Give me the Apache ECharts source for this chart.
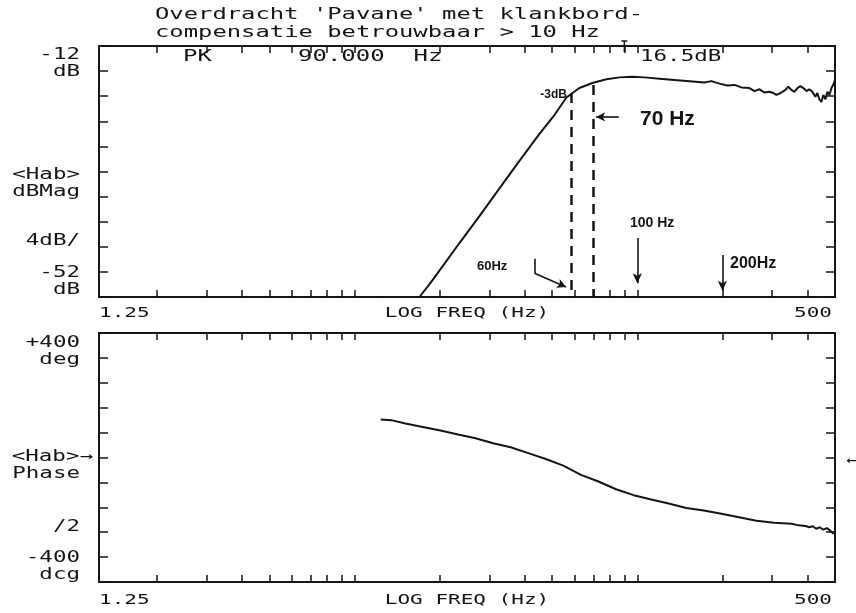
<!DOCTYPE html>
<html><head><meta charset="utf-8">
<script src="https://cdn.jsdelivr.net/npm/echarts@6/dist/echarts.min.js"></script>
<style>html,body{margin:0;padding:0;background:#fff}#c{width:856px;height:613px}</style>
</head><body><div id="c"></div>
<script>
// ---------- data ----------
const titleLines = ["Overdracht 'Pavane' met klankbord-", "compensatie betrouwbaar > 10 Hz"];
const headerTexts = ['PK', '90.000  Hz', '16.5dB'];
const peakFreq = 90;
const freqTickLabels = ['1.25', '500'];
const freqAxisName = 'LOG FREQ (Hz)';
const magTickLabels = ['-12\ndB', '<Hab>\ndBMag', '4dB/', '-52\ndB'];
const phaseTickLabels = ['+400\ndeg', '<Hab>\u2192\nPhase', '/2', '-400\ndcg'];
const minorFreqTicks = [2,3,4,5,6,7,8,9,10,20,30,40,50,60,70,80,90,100,200,300,400];

const magFreq = [12.36,14.42,16.97,18.41,19.98,23.51,27.67,32.56,38.31,45.09,50.93,56.16,62.42,69.41,77.77,86.46,96.1,105.95,119.7,135.3,152.9,172.7,182.9,195.2,208.2,220.5,233.4,249.2,259.5,270.2,281.5,293.1,302.8,310.3,317.9,325.8,333.8,342.1,350.5,359.2,368.1,377.2,386.5,396.1,405.9,415.9,426.2,433.2,440.4,447.6,455.0,462.5,470.2,478.0,485.9,493.9,500];
const magDb = [-52,-52,-52,-50.0,-47.8,-43.4,-39.1,-34.7,-30.3,-26.0,-23.0,-20.2,-18.7,-17.9,-17.3,-17.0,-16.9,-17.0,-17.2,-17.4,-17.6,-17.8,-17.6,-18.0,-18.3,-18.2,-18.6,-18.7,-19.2,-18.9,-19.4,-19.3,-19.5,-19.8,-19.6,-19.3,-19.0,-18.5,-19.0,-19.3,-18.7,-18.4,-18.7,-19.2,-18.9,-19.3,-20.1,-19.5,-20.5,-20.9,-19.8,-20.5,-19.3,-19.8,-18.7,-18.1,-17.4];

const phaseFreq = [12.39,13.49,15.14,17.45,20.14,23.25,26.80,30.93,35.66,41.16,47.49,54.76,63.2,72.9,84.1,97.1,112.0,129.1,149.0,171.8,198.3,228.8,263.9,304.5,351.1,372,393.9,405.3,417,429,441.7,454.5,467.7,481.2,495];
const phaseDeg = [122,120,109,98,87,74,62,46,33,14,-5,-26,-56,-77,-102,-121,-135,-148,-162,-170,-181,-192,-203,-210,-213,-218,-220,-224,-221,-229,-224,-232,-227,-235,-246];

// hand-written annotations
const cutoffLines = [{f: 58.5, top: -19.5}, {f: 70, top: -18.2}];
const noteTexts = ['-3dB', '70 Hz', '100 Hz', '200Hz', '60Hz'];

// ---------- chart ----------
const chart = echarts.init(document.getElementById('c'), null, {renderer: 'canvas'});
const INK = '#151515';
const G0 = {left: 99, right: 21, top: 46, height: 251};
const G1 = {left: 99, right: 21, top: 333, height: 249};

function xAx(grid, pos) {
  return {
    type: 'log', logBase: 10, gridIndex: grid, position: pos, min: 1.25, max: 500,
    axisLine: {show: true, onZero: false, lineStyle: {color: INK, width: 2}},
    axisTick: {show: true, inside: true, length: 7, customValues: minorFreqTicks, lineStyle: {color: INK, width: 1.5}},
    axisLabel: {show: false}, splitLine: {show: false}, minorTick: {show: false}
  };
}
function yAx(grid, pos, min, max, interval) {
  return {
    type: 'value', gridIndex: grid, position: pos, min: min, max: max, interval: interval,
    axisLine: {show: true, onZero: false, lineStyle: {color: INK, width: 2}},
    axisTick: {show: true, inside: true, length: 9, lineStyle: {color: INK, width: 1.5}},
    axisLabel: {show: false}, splitLine: {show: false}
  };
}

const dashed = {color: INK, width: 2.5, type: [10, 7]};
const arrowLine = {color: INK, width: 1.6, type: 'solid'};

const markData = [];
cutoffLines.forEach(c => {
  markData.push([{coord: [c.f, c.top], symbol: 'none', lineStyle: dashed}, {coord: [c.f, -52], symbol: 'none'}]);
});
// 70 Hz arrow (pointing left to dashed line)
markData.push([{coord: [86, -23.3], symbol: 'none', lineStyle: arrowLine}, {coord: [71.5, -23.3], symbol: 'arrow', symbolSize: [7, 9]}]);
// 100 Hz arrow
markData.push([{coord: [100, -42.6], symbol: 'none', lineStyle: arrowLine}, {coord: [100, -49.8], symbol: 'arrow', symbolSize: [7, 10]}]);
// 200 Hz arrow
markData.push([{coord: [200, -45.3], symbol: 'none', lineStyle: arrowLine}, {coord: [200, -51.0], symbol: 'arrow', symbolSize: [7, 10]}]);
// 60 Hz bent arrow
markData.push([{coord: [43.3, -45.9], symbol: 'none', lineStyle: arrowLine}, {coord: [43.3, -48.2], symbol: 'none'}]);
markData.push([{coord: [43.3, -48.2], symbol: 'none', lineStyle: arrowLine}, {coord: [56, -50.4], symbol: 'arrow', symbolSize: [7, 9]}]);

const option = {
  backgroundColor: '#fff',
  animation: false,
  grid: [G0, G1],
  xAxis: [xAx(0, 'bottom'), xAx(0, 'top'), xAx(1, 'bottom'), xAx(1, 'top')],
  yAxis: [yAx(0, 'left', -52, -12, 4), yAx(0, 'right', -52, -12, 4), yAx(1, 'left', -400, 400, 80), yAx(1, 'right', -400, 400, 80)],
  series: [
    {
      type: 'line', xAxisIndex: 0, yAxisIndex: 0,
      data: magFreq.map((f, i) => [f, magDb[i]]),
      showSymbol: false, symbol: 'none', lineStyle: {color: INK, width: 2}, silent: true,
      markLine: {silent: true, symbol: 'none', label: {show: false}, lineStyle: arrowLine, data: markData}
    },
    {
      type: 'line', xAxisIndex: 2, yAxisIndex: 2,
      data: phaseFreq.map((f, i) => [f, phaseDeg[i]]),
      showSymbol: false, symbol: 'none', lineStyle: {color: INK, width: 2}, silent: true
    }
  ]
};
chart.setOption(option);

// ---------- texts ----------
const MONO = '"DejaVu Sans Mono", "Liberation Mono", monospace';
const HAND = '"Liberation Sans", "DejaVu Sans", sans-serif';
function t(x, y, text, size, sx, align) {
  return {
    type: 'text', x: x, y: y, scaleX: sx, silent: true,
    style: {text: text, font: size + 'px ' + MONO, fill: INK, align: align || 'left', verticalAlign: 'middle', lineHeight: 17}
  };
}
function h(x, y, text, size, align) {
  return {type: 'text', x: x, y: y, silent: true,
    style: {text: text, font: 'bold ' + size + 'px ' + HAND, fill: INK, align: align || 'left', verticalAlign: 'middle'}};
}
// two-line label, each line right-aligned at its own x
function label2(xs, yTop, text) {
  const lines = text.split('\n');
  return lines.map((ln, i) => t(xs[i], yTop + i * 17, ln, 15, 1.5, 'right'));
}

const xl = chart.convertToPixel({xAxisIndex: 0}, 1.25);
const xr = chart.convertToPixel({xAxisIndex: 0}, 500);
const xc = (xl + xr) / 2;
const xPk = chart.convertToPixel({xAxisIndex: 0}, peakFreq);

const g = [];
g.push(t(155, 15, titleLines[0], 16, 1.49));
g.push(t(155, 33, titleLines[1], 16, 1.49));
g.push(t(183, 57, headerTexts[0], 15, 1.6));
g.push(t(298, 57, headerTexts[1], 15, 1.6));
g.push(t(640, 57, headerTexts[2], 15, 1.5));
// peak marker
g.push({type: 'polyline', silent: true, shape: {points: [[xPk - 3, 41], [xPk + 3, 41]]}, style: {stroke: INK, lineWidth: 1.5}});
g.push({type: 'polyline', silent: true, shape: {points: [[xPk, 41], [xPk, 52]]}, style: {stroke: INK, lineWidth: 1.5}});

// magnitude axis labels
g.push(...label2([80, 80], 55, magTickLabels[0]));
g.push(...label2([80, 80], 175, magTickLabels[1]));
g.push(t(80, 241, magTickLabels[2], 15, 1.5, 'right'));
g.push(...label2([80, 80], 273, magTickLabels[3]));
// phase axis labels
g.push(...label2([80, 80], 343, phaseTickLabels[0]));
g.push(...label2([93, 80], 457, phaseTickLabels[1]));
g.push(t(80, 527, phaseTickLabels[2], 15, 1.5, 'right'));
g.push(...label2([80, 80], 558, phaseTickLabels[3]));
g.push(t(846, 461, '\u2190', 15, 1.2, 'left'));

// frequency axis labels (both panels)
[313, 600].forEach(y => {
  g.push(t(xl, y, freqTickLabels[0], 14, 1.5, 'left'));
  g.push(t(xc, y, freqAxisName, 14, 1.5, 'center'));
  g.push(t(xr - 3, y, freqTickLabels[1], 14, 1.5, 'right'));
});

// hand-written notes
g.push(h(567, 95, noteTexts[0], 12, 'right'));
g.push(h(640, 119, noteTexts[1], 21, 'left'));
g.push(h(630, 223, noteTexts[2], 14, 'left'));
g.push(h(730, 264, noteTexts[3], 16, 'left'));
g.push(h(477, 266, noteTexts[4], 13, 'left'));

chart.setOption({graphic: g});
</script>
</body></html>
